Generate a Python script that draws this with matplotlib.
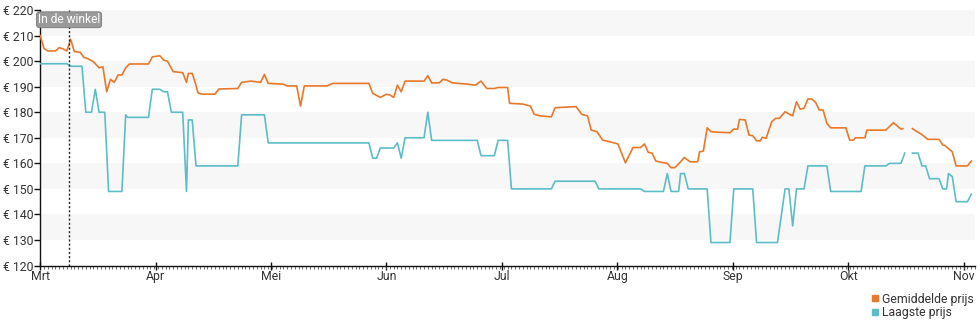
import numpy as np
import matplotlib
matplotlib.use("Agg")
import matplotlib.pyplot as plt
from matplotlib.lines import Line2D
from matplotlib.ticker import FuncFormatter, MultipleLocator

plt.rcParams['font.family'] = ['Roboto', 'DejaVu Sans']

# days since 1 March; nan marks the gap with no data
gem_days = [0, 1, 2, 4, 5, 6, 7, 8, 9, 10.5, 11.5, 12.5, 14, 15.5, 16.5, 17.5, 18.5, 19.5,
            20.5, 21.5, 22.5, 23.5, 28.5, 29.5, 31.5, 32.5, 33.5, 35, 37.5, 38.5, 39, 40, 41,
            41.5, 42.5, 46, 47, 52, 53, 55.5, 58, 59, 60, 64, 65, 67.5, 68.5, 69.5, 75.5, 77,
            86.5, 87.5, 89.5, 91, 92, 93, 94, 95, 96, 101, 102, 103, 105, 106, 107, 108.5, 111,
            112.5, 114.5, 116, 117.5, 119.5, 120.5, 123, 123.5, 127, 129, 130, 131.5, 134.5,
            135.5, 141, 142.5, 144, 145, 146.5, 148, 150, 152, 154, 156, 158, 159, 160, 161,
            162, 163.5, 165, 166, 167, 168.5, 169.5, 171, 173, 173.5, 174.5, 175.5, 176.5, 178,
            181.5, 182.5, 183.5, 184, 185.5, 186.5, 187.5, 188.5, 189.5, 190, 191, 192.5, 193.5,
            194.5, 196, 197.5, 198, 199, 200, 201, 202, 203, 204, 205, 206, 207, 208, 212, 213,
            214, 214.5, 217, 217.5, 222.5, 224.5, 226.5, 227, 228.5, 229.5, 230.5, 232, 233.5,
            236.5, 237.5, 238, 240, 241, 244, 245]
gem_prijs = [210, 205, 204, 204, 205.3, 204.8, 204, 208.6, 203.7, 203.5, 201.5, 201, 199.8,
             197.4, 197.8, 188, 192.9, 191.7, 194.6, 194.6, 197.4, 198.9, 198.9, 201.7, 202.1,
             200.4, 200, 195.9, 195.5, 191.7, 195.2, 195.2, 190.6, 187.6, 187.1, 187.1, 189.1,
             189.3, 191.7, 192.2, 191.7, 194.8, 191.3, 191, 190.3, 190.3, 182.4, 190.3, 190.3,
             191.3, 191.3, 187.4, 185.8, 187, 186.8, 185.8, 190.6, 188, 192.2, 192.2, 194.3,
             191.5, 191.5, 192.9, 192.6, 191.5, 191.2, 191, 190.6, 192.2, 189.3, 189.3, 189.7,
             189.7, 183.5, 183.2, 182.4, 179.2, 178.6, 178.2, 181.8, 182.2, 179.2, 178.6, 173,
             172.4, 169.1, 168.4, 167.6, 160.2, 166.2, 166.2, 167.6, 164.3, 164, 160.9, 160.4,
             160, 158.3, 158.3, 160.6, 162.3, 160.6, 160.6, 164.5, 164.8, 173.9, 172.4, 172.2,
             172, 173.4, 173.4, 177.2, 177, 171.1, 170.8, 168.8, 168.8, 170.2, 169.8, 176.3,
             177.6, 177.6, 180.2, 178.9, 178.6, 184.1, 181.2, 181.6, 185.2, 185.2, 183.9, 180.9,
             180.9, 175.6, 173.9, 173.9, 169.1, 169.1, 170, 170, 173, 173, 175.9, 173.4, 173.6,
             np.nan, 173.6, 172.6, 171.3, 169.4, 169.4, 167.2, 167, 164.5, 159, 159, 160.9]

laag_days = [0, 7, 8, 11, 12, 13.5, 14.5, 15.5, 17, 18, 21.5, 22.5, 23, 28.5, 29.5, 31.5, 32.5,
             33.5, 34.5, 37.5, 38.5, 39, 40, 41, 52, 53, 59, 60, 86.5, 87.5, 88.5, 89.5, 93, 94,
             95, 96, 101, 102, 103, 115, 116, 119.5, 120.5, 123, 124, 134.5, 135.5, 146, 147,
             158, 159, 164, 165, 166, 168, 168.5, 169.5, 170.5, 175.5, 176.5, 181.5, 182.5,
             187.5, 188.5, 194, 196, 197, 198, 199, 201, 202, 207, 208, 216, 217, 222.5, 223.5,
             226.5, 227.5, 228.5, 229.5, 231, 232, 233, 234, 236.5, 237.5, 238.5, 239, 240, 241,
             244, 245]
laag_prijs = [199, 199, 198, 198, 180, 180, 189, 180, 180, 149, 149, 179, 178, 178, 189, 189,
              188, 188, 180, 180, 149, 177, 177, 159, 159, 179, 179, 168, 168, 162, 162, 166, 166,
              168, 162, 170, 170, 180, 169, 169, 163, 163, 169, 169, 150, 150, 153, 153, 150,
              150, 149, 149, 156, 149, 149, 156, 156, 150, 150, 129, 129, 150, 150, 129, 129,
              150, 150, 135.5, 150, 150, 159, 159, 149, 149, 159, 159, 160, 160, 164, np.nan,
              164, 164, 159, 159, 154, 154, 150, 150, 156, 154.8, 145, 145, 147.9]

maanden = ['Mrt', 'Apr', 'Mei', 'Jun', 'Jul', 'Aug', 'Sep', 'Okt', 'Nov']
in_winkel_dag = 7.6

oranje = '#e8782a'
blauw = '#5cbdc6'
tekst = '#333333'

fig = plt.figure(figsize=(9.8, 3.25), dpi=100)
ax = fig.add_axes([0.041, 0.183, 0.954, 0.786])

# alternating grey bands
for lo in range(130, 220, 20):
    ax.axhspan(lo, lo + 10, color='#f7f7f7', lw=0, zorder=0)

ax.plot(gem_days, gem_prijs, color=oranje, lw=1.2, zorder=3)
ax.plot(laag_days, laag_prijs, color=blauw, lw=1.2, zorder=3)

ax.axvline(in_winkel_dag, color='#222222', lw=1, ls=(0, (1.5, 1.5)), zorder=4)
ax.annotate('In de winkel', xy=(in_winkel_dag, 0.962), xycoords=('data', 'axes fraction'),
            ha='center', va='center', color='white', fontsize=8.6,
            bbox=dict(boxstyle='round,pad=0.12,rounding_size=0.25', fc='#9a9a9a',
                      ec='#777777', lw=0.6), zorder=5)

ax.set_xlim(0, 246)
ax.set_ylim(120, 220)

maand_pos = [i * 30.37 for i in range(len(maanden))]
ax.set_xticks(maand_pos)
ax.set_xticklabels(maanden)
ax.xaxis.set_minor_locator(MultipleLocator(1))
ax.yaxis.set_major_locator(MultipleLocator(10))
ax.yaxis.set_major_formatter(FuncFormatter(lambda v, p: '€ %d' % v))

for s in ['top', 'right']:
    ax.spines[s].set_visible(False)
for s in ['left', 'bottom']:
    ax.spines[s].set_color('#111111')
    ax.spines[s].set_linewidth(1)

ax.tick_params(axis='x', which='major', direction='inout', length=6, width=1,
               colors='#111111', labelcolor=tekst, labelsize=8.8, pad=0)
ax.tick_params(axis='x', which='minor', direction='out', length=2, width=0.6,
               colors='#555555')
ax.tick_params(axis='y', which='major', direction='out', length=4, width=1,
               colors='#111111', labelcolor=tekst, labelsize=8.8, pad=1)

handles = [Line2D([], [], ls='none', marker='s', ms=4.5, color=oranje),
           Line2D([], [], ls='none', marker='s', ms=4.5, color=blauw)]
fig.legend(handles, ['Gemiddelde prijs', 'Laagste prijs'], loc='lower right',
           bbox_to_anchor=(1.004, -0.012), frameon=False, fontsize=8.8, labelcolor=tekst,
           handlelength=0.6, handletextpad=0.3, labelspacing=0.05, borderpad=0.3)

fig.savefig('out.png', dpi=100)
